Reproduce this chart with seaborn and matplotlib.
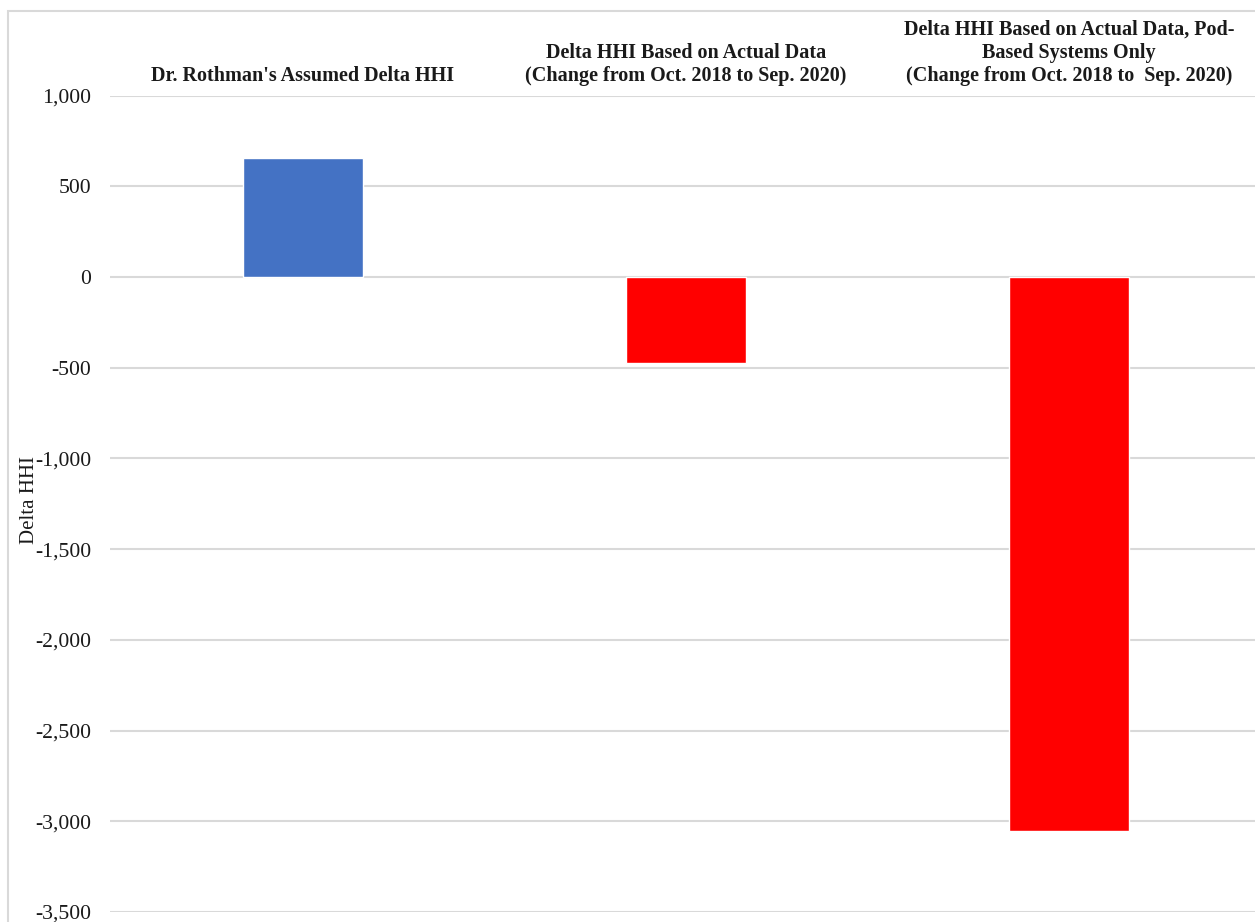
import matplotlib
matplotlib.use("Agg")
import matplotlib.pyplot as plt
import seaborn as sns
import pandas as pd
from matplotlib.patches import Rectangle
from matplotlib.ticker import FuncFormatter

categories = [
    "Dr. Rothman's Assumed Delta HHI",
    "Delta HHI Based on Actual Data\n(Change from Oct. 2018 to Sep. 2020)",
    "Delta HHI Based on Actual Data, Pod-\nBased Systems Only\n(Change from Oct. 2018 to  Sep. 2020)",
]
values = [655, -473, -3055]
colors = ["#4472C4", "#FF0000", "#FF0000"]
yticks = [1000, 500, 0, -500, -1000, -1500, -2000, -2500, -3000, -3500]

sns.set_theme(style="white")
plt.rcParams["font.family"] = ["Liberation Serif", "DejaVu Serif"]

W, H = 1255, 922
fig = plt.figure(figsize=(W / 100, H / 100), dpi=100)
ax = fig.add_axes([110 / W, 1 - 912 / H, (1255 - 110) / W, (912 - 95.7) / H])

df = pd.DataFrame({"cat": categories, "val": values})
sns.barplot(data=df, x="cat", y="val", hue="cat", palette=colors,
            width=0.313, legend=False, ax=ax, saturation=1, zorder=3)

ax.set_ylim(-3500, 1000)
ax.set_xlim(-0.504, 2.486)
ax.set_yticks(yticks)
ax.yaxis.set_major_formatter(FuncFormatter(lambda v, p: f"{int(v):,}"))
ax.grid(axis="y", color="#D9D9D9", linewidth=1.5, zorder=0)
ax.grid(axis="x", visible=False)
for s in ax.spines.values():
    s.set_visible(False)

ax.tick_params(axis="y", length=0, pad=13.5, labelsize=15.6, labelcolor="#1a1a1a")
ax.xaxis.tick_top()
ax.tick_params(axis="x", length=0, pad=7)
ax.set_xticks(range(len(categories)))
ax.set_xticklabels(categories, fontsize=14.5, fontweight="bold",
                   linespacing=1.2, ha="center", va="bottom", color="#1a1a1a")
ax.set_xlabel("")
ax.set_ylabel("")
fig.text(30 / W, 1 - 500 / H, "Delta HHI", rotation=90, fontsize=15,
         color="#1a1a1a", ha="center", va="center")

# chart-area border
fig.patches.append(Rectangle((8 / W, -0.1), 1.2, 1 - 11 / H + 0.1,
                             transform=fig.transFigure, fill=False,
                             edgecolor="#D9D9D9", linewidth=1.5))

fig.savefig("out.png", dpi=100)
